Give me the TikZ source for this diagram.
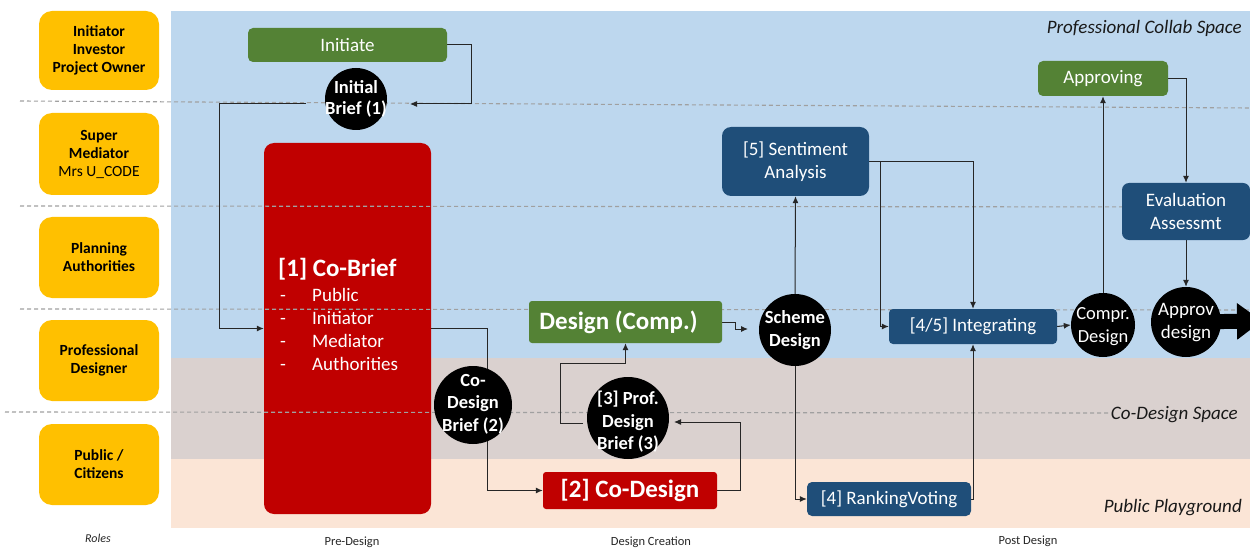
\documentclass[tikz,border=0pt]{standalone}
\usepackage{fontspec}
\setmainfont{Carlito}
\usetikzlibrary{arrows.meta}
\pgfdeclarelayer{bg}
\pgfdeclarelayer{wires}
\pgfsetlayers{bg,wires,main}
\definecolor{bgblue}{HTML}{BDD7EE}
\definecolor{bggrey}{HTML}{DAD1CF}
\definecolor{bgpeach}{HTML}{FBE5D6}
\definecolor{roleY}{HTML}{FFC000}
\definecolor{stepG}{HTML}{548235}
\definecolor{stepB}{HTML}{1F4E79}
\definecolor{stepR}{HTML}{C00000}
\definecolor{laneline}{HTML}{A0A0A0}
\newcommand\fsz[2]{\fontsize{#1}{#2}\selectfont}

\begin{document}
\begin{tikzpicture}[x=1pt,y=-1pt,
  role/.style={fill=roleY, rounded corners=13pt, minimum width=120pt, inner sep=0pt,
    align=center, font=\fsz{15.5}{18}\bfseries},
  gbox/.style={fill=stepG, rounded corners=5pt, inner sep=0pt, text=white, align=center,
    font=\fsz{19}{23}},
  bbox/.style={fill=stepB, rounded corners=6pt, inner sep=0pt, text=white, align=center,
    font=\fsz{19}{23}},
  rbox/.style={fill=stepR, rounded corners=3pt, inner sep=0pt, text=white,
    font=\fsz{25}{30}\bfseries},
  cbitem/.style={anchor=base west, inner sep=0pt, text=white, font=\fsz{19}{23}},
  dot/.style={circle, fill=black, inner sep=0pt},
  dottext/.style={text=white, align=center, inner sep=0pt, font=\fsz{18.5}{22.5}\bfseries},
  conn/.style={draw=black!85, line width=1pt, -{Latex[length=7pt,width=6pt]}},
  lane/.style={draw=laneline, line width=1.1pt, dash pattern=on 4pt off 3pt},
  spacelabel/.style={anchor=east, inner sep=0pt, text=black!90, font=\fsz{19}{23}\itshape},
  phase/.style={inner sep=0pt, text=black!85, font=\fsz{12.5}{15}}
]
\useasboundingbox (0,0) rectangle (1250,548);

\begin{pgfonlayer}{bg}
  % swim-lane backgrounds
  \fill[bgblue]  (171,11)  rectangle (1250,358);
  \fill[bggrey]  (171,358) rectangle (1250,459);
  \fill[bgpeach] (171,459) rectangle (1250,528);
  % co-brief block spans all lanes
  \node[rbox, rounded corners=10pt, minimum width=167pt, minimum height=371pt] (CB) at (347.5,328.5) {};
  \node[anchor=base west, inner sep=0pt, text=white, font=\fsz{25}{30}\bfseries] (CBt) at (278,276) {[1] Co-Brief};
  \foreach \y/\t [count=\i] in {301/Public,324/Initiator,347/Mediator,370/Authorities} {
    \node[cbitem] (cbd\i) at (280,\y) {-};
    \node[cbitem] (cbi\i) at (312,\y) {\t};
  }
  % lane separators
  \draw[lane] (20,101) -- (1250,108);
  \draw[lane] (20,206) -- (1250,207);
  \draw[lane] (20,309) -- (1250,310);
  \draw[lane] (5,412) -- (1110,413);
\end{pgfonlayer}

% roles
\node[role, minimum height=79pt] (r1) at (99,50.5) {Initiator\\Investor\\Project Owner};
\node[role, minimum height=82pt] (r2) at (99,154) {Super\\Mediator\\{\mdseries Mrs U\_CODE}};
\node[role, minimum height=81pt] (r3) at (99,257.5) {Planning\\Authorities};
\node[role, minimum height=81pt] (r4) at (99,360.5) {Professional\\Designer};
\node[role, minimum height=81pt] (r5) at (99,464.5) {Public /\\Citizens};

% space labels
\node[spacelabel] (s1) at (1242,28) {Professional Collab Space};
\node[spacelabel] (s2) at (1238,415) {Co-Design Space};
\node[spacelabel] (s3) at (1242,508) {Public Playground};

% phase labels
\node[phase, font=\fsz{12}{14}\itshape] (p0) at (98,538) {Roles};
\node[phase] (p1) at (352,542) {Pre-Design};
\node[phase] (p2) at (651,542) {Design\ Creation};
\node[phase] (p3) at (1028,541) {Post Design};

% process steps
\node[gbox, minimum width=199pt, minimum height=34pt] (Init) at (347.5,45) {Initiate};
\node[dot, minimum size=62pt] (IB) at (356,99) {};
\node[dottext, font=\fsz{18.5}{21}\bfseries] (IBt) at (356,99) {Initial\\Brief (1)};

\node[dot, minimum size=78pt] (CDB) at (473,405) {};
\node[dottext] (CDBt) at (473,404) {Co-\\Design\\Brief (2)};

\node[rbox, minimum width=174pt, minimum height=37pt] (CD) at (630,490.5) {[2] Co-Design};

\node[dot, minimum size=82pt] (PDB) at (628,418) {};
\node[dottext] (PDBt) at (628,422) {[3] Prof.\\Design\\Brief (3)};

\node[gbox, rounded corners=3pt, minimum width=193pt, minimum height=42pt] (DC) at (625.5,322) {};
\node[inner sep=0pt, text=white, font=\fsz{25}{30}\bfseries] (DCt) at (618.5,322) {Design (Comp.)};

\node[dot, minimum size=72pt] (SD) at (795,330) {};
\node[dottext] (SDt) at (795,330) {Scheme\\Design};

\node[bbox, rounded corners=9pt, minimum width=147pt, minimum height=69pt] (SA) at (795.5,161.5) {[5] Sentiment\\Analysis};
\node[bbox, rounded corners=4pt, minimum width=168pt, minimum height=35pt] (Int) at (973,326.5) {[4/5] Integrating};
\node[bbox, rounded corners=5pt, minimum width=164pt, minimum height=34pt] (RV) at (889,499) {[4] RankingVoting};

\node[dot, minimum size=64pt] (CmD) at (1103,325) {};
\node[dottext, font=\fsz{18.5}{23}] (CmDt) at (1103,327) {Compr.\\Design};

\node[gbox, minimum width=130pt, minimum height=35pt] (Ap) at (1103,78.5) {Approving};
\node[bbox, rounded corners=7pt, minimum width=128pt, minimum height=57pt] (Ev) at (1186,211.5) {Evaluation\\Assessmt};

\node[dot, minimum size=70pt] (AD) at (1186,322) {};
\node[dottext, font=\fsz{19}{23}] (ADt) at (1186,323) {Approv\\design};

% outgoing block arrow
\begin{pgfonlayer}{wires}
  \begin{scope}
    \clip (0,0) rectangle (1250,548);
    \coordinate (outTip) at (1262,321);
    \draw[line width=15pt, -{Triangle[length=25pt,width=35pt]}] (AD.center) -- (outTip);
  \end{scope}
\end{pgfonlayer}

% connectors
\coordinate (ibIn) at (410,104);
\coordinate (ibOut) at (306,104);
\coordinate (pdIn) at (674,422);
\coordinate (pdOut) at (583,423);
\coordinate (sdIn) at (748,329);
\begin{pgfonlayer}{wires}
  \draw[conn] (Init.east) -- ++(24,0) |- (ibIn);
  \draw[conn] (ibOut) -- ++(-87,0) |- (CB.west);
  \draw[conn] (CB.east) -- ++(56,0) |- (CD.west);
  \draw[conn] (CD.east) -- ++(23,0) |- (pdIn);
  \draw[conn] (pdOut) -- ++(-23,0) |- ([yshift=-20pt]DC.south) -- (DC.south);
  \draw[conn] (DC.east) -- ++(13,0) |- (sdIn);
  \draw[conn] (SD.north) -- (SA.south);
  \draw[conn] (SA.east) -| (Int.north);
  \draw[conn] (SA.east) -- ++(11,0) |- (Int.west);
  \draw[conn] (SD.south) |- (RV.west);
  \draw[conn] (RV.east) -| (Int.south);
  \draw[conn] (Int.east) -- (CmD.west);
  \draw[conn] (CmD.north) -- (Ap.south);
  \draw[conn] (Ap.east) -| (Ev.north);
  \draw[conn] (Ev.south) -- (AD.north);
\end{pgfonlayer}
\end{tikzpicture}
\end{document}
